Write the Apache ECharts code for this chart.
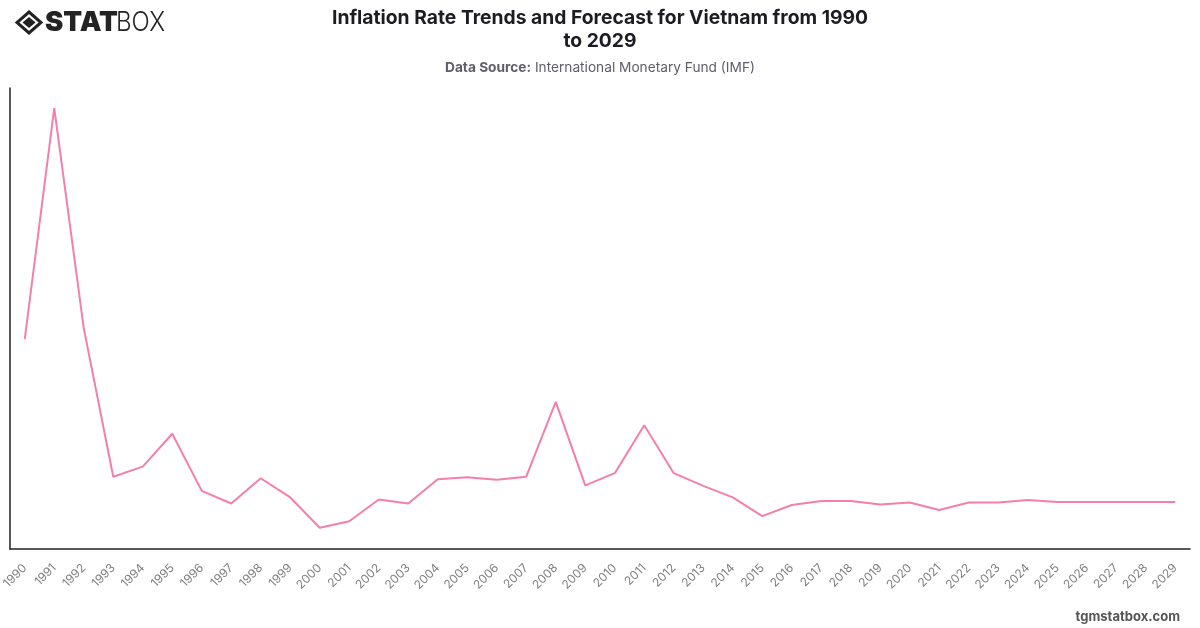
<!DOCTYPE html>
<html>
<head>
<meta charset="utf-8">
<title>Inflation Rate Trends and Forecast for Vietnam</title>
<script src="https://cdn.jsdelivr.net/npm/echarts@6/dist/echarts.min.js"></script>
<style>html,body{margin:0;padding:0;background:#fff}#chart{width:1200px;height:628px}</style>
</head>
<body>
<div id="chart"></div>
<script>
// Annual inflation, percent change; 2024 onward are forecasts.
const years = ['1990','1991','1992','1993','1994','1995','1996','1997','1998','1999',
  '2000','2001','2002','2003','2004','2005','2006','2007','2008','2009',
  '2010','2011','2012','2013','2014','2015','2016','2017','2018','2019',
  '2020','2021','2022','2023','2024','2025','2026','2027','2028','2029'];
const inflation = [35.7,81.4,37.9,8.5,10.5,17.0,5.7,3.2,8.2,4.4,
  -1.6,-0.3,4.0,3.2,8.0,8.4,7.9,8.5,23.3,6.8,
  9.2,18.7,9.2,6.7,4.4,0.7,2.9,3.7,3.7,3.0,
  3.4,1.9,3.4,3.4,3.9,3.5,3.5,3.5,3.5,3.5];
const titleText = 'Inflation Rate Trends and Forecast for Vietnam from 1990\nto 2029';
const sourceLabel = 'Data Source:';
const sourceName = 'International Monetary Fund (IMF)';
const siteName = 'tgmstatbox.com';

const chart = echarts.init(document.getElementById('chart'), null, {renderer: 'canvas'});
chart.setOption({
  animation: false,
  backgroundColor: '#fff',
  textStyle: {fontFamily: 'Inter'},
  title: [{
    text: titleText,
    left: 595, top: 1, textAlign: 'center',
    textStyle: {fontFamily: 'Inter', fontSize: 19.3, fontWeight: 700, color: '#1c1c22', lineHeight: 23.5}
  }, {
    text: '{b|' + sourceLabel + '}{r| ' + sourceName + '}',
    left: 595, top: 55.5, textAlign: 'center',
    textStyle: {fontWeight: 400, rich: {
      b: {fontFamily: 'Inter', fontSize: 13.7, fontWeight: 700, color: '#5f5d6b'},
      r: {fontFamily: 'Inter', fontSize: 13.7, fontWeight: 400, color: '#5f5d6b'}
    }}
  }],
  grid: {left: 10, right: 10, top: 88, bottom: 79, containLabel: false, outerBoundsMode: 'none'},
  xAxis: {
    type: 'category',
    data: years,
    boundaryGap: true,
    axisLine: {onZero: false, lineStyle: {color: '#222', width: 1.5}},
    axisTick: {show: false},
    axisLabel: {rotate: 45, interval: 0, color: '#808080', fontFamily: 'Inter', fontSize: 12, margin: 17}
  },
  yAxis: {
    type: 'value',
    min: -5.8, max: 85.4,
    axisLine: {show: true, onZero: false, lineStyle: {color: '#222', width: 1.5}},
    axisTick: {show: false},
    axisLabel: {show: false},
    splitLine: {show: false}
  },
  series: [{
    type: 'line',
    data: inflation,
    showSymbol: false,
    smooth: false,
    lineStyle: {color: '#f47fac', width: 2}
  }],
  graphic: [
    // Brand mark: outlined diamond around a solid one
    {type: 'polygon', shape: {points: [[29,12],[41,22.5],[29,33],[17,22.5]]},
      style: {fill: 'none', stroke: '#232323', lineWidth: 3}},
    {type: 'polygon', shape: {points: [[29,17],[35.5,22.5],[29,28],[22.5,22.5]]},
      style: {fill: '#232323'}},
    {type: 'text', x: 45, y: 9,
      style: {text: 'STAT', fontFamily: 'Inter', fontSize: 27.5, fontWeight: 900, fill: '#232323'}},
    {type: 'text', x: 116, y: 9, scaleX: 0.89,
      style: {text: 'BOX', fontFamily: 'Inter', fontSize: 27, fontWeight: 300, fill: '#232323'}},
    {type: 'text', right: 20, top: 611,
      style: {text: siteName, fontFamily: 'Inter', fontSize: 13, fontWeight: 700, fill: '#555'}}
  ]
});
</script>
</body>
</html>
